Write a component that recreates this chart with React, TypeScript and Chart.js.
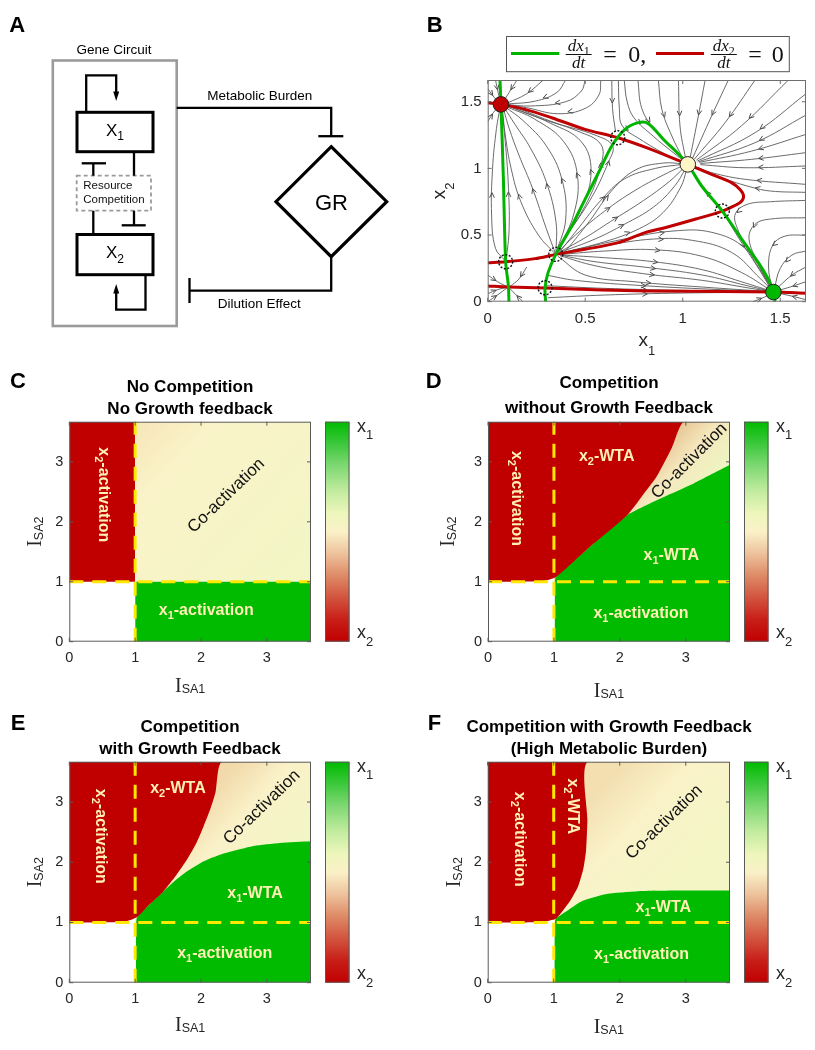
import React, { useEffect, useRef } from 'react';
import { Chart, registerables } from 'chart.js';

Chart.register(...registerables);

const SANS = '"Liberation Sans", Arial, Helvetica, sans-serif';
const SERIF = '"Liberation Serif", "Times New Roman", serif';
Chart.defaults.font.family = SANS;

const RED = '#C00000';
const GREEN = '#00BB00';
const NULL_GREEN = '#00B400';
const YELLOW = '#FFE800';
const LABEL = '#FFF0B4';

// ================= Panel B : phase plane data =================
const phaseTicks = [0, 0.5, 1, 1.5];
const phaseLimX = [0, 1.632];
const phaseLimY = [0, 1.663];

const nullX1Left = [[0.063, 1.663], [0.068, 1.48], [0.08, 0.943], [0.092, 0.3], [0.106, 0.118], [0.109, 0]];
const nullX1Hump = [[0.297, 0], [0.294, 0.105], [0.31, 0.22], [0.349, 0.355], [0.431, 0.568], [0.499, 0.768], [0.568, 0.968], [0.636, 1.168], [0.704, 1.293], [0.773, 1.343], [0.824, 1.335], [0.909, 1.205], [0.97, 1.12], [1.026, 1.03], [1.097, 0.868], [1.203, 0.68], [1.303, 0.468], [1.388, 0.293], [1.439, 0.168], [1.465, 0.0725], [1.473, 0]];
const nullX2Upper = [[0, 1.493], [0.068, 1.48], [0.191, 1.443], [0.328, 1.38], [0.499, 1.293], [0.667, 1.23], [0.824, 1.15], [1.026, 1.03], [1.148, 0.955], [1.25, 0.893], [1.295, 0.84], [1.312, 0.79], [1.295, 0.745], [1.25, 0.71], [1.203, 0.68], [1.063, 0.618], [0.909, 0.555], [0.807, 0.518], [0.67, 0.443], [0.499, 0.393], [0.349, 0.355], [0.243, 0.323], [0.092, 0.3], [0, 0.293]];
const nullX2Lower = [[0, 0.118], [0.106, 0.11], [0.294, 0.102], [0.585, 0.088], [0.82, 0.08], [1.2, 0.076], [1.465, 0.0725], [1.632, 0.064]];

const stablePts = [[0.068, 1.48], [1.026, 1.03], [1.465, 0.0725]];
const unstablePts = [[0.667, 1.23], [1.203, 0.68], [0.349, 0.355], [0.092, 0.3], [0.294, 0.105]];

const streamlines = [
  [[0.04, 1.663], [0.055, 1.56], [0.066, 1.5]],
  [[0.15, 1.663], [0.11, 1.57], [0.08, 1.5]],
  [[0.285, 1.663], [0.2, 1.56], [0.1, 1.49]],
  [[0.4, 1.663], [0.355, 1.57], [0.245, 1.505], [0.1, 1.483]],
  [[0.5, 1.663], [0.48, 1.58], [0.4, 1.5], [0.22, 1.468], [0.09, 1.48]],
  [[0.58, 1.663], [0.57, 1.55], [0.5, 1.45], [0.36, 1.41], [0.2, 1.455], [0.09, 1.478]],
  [[0, 1.6], [0.035, 1.53], [0.064, 1.49]],
  [[0, 1.35], [0.03, 1.42], [0.062, 1.47]],
  [[0.349, 0.355], [0.26, 0.5], [0.17, 0.75], [0.12, 1.0], [0.09, 1.25], [0.075, 1.45]],
  [[0.349, 0.355], [0.3, 0.55], [0.23, 0.85], [0.16, 1.1], [0.11, 1.3], [0.08, 1.45]],
  [[0.35, 0.36], [0.35, 0.6], [0.3, 0.9], [0.22, 1.15], [0.14, 1.33], [0.085, 1.455]],
  [[0.352, 0.37], [0.4, 0.62], [0.38, 0.92], [0.3, 1.17], [0.18, 1.36], [0.09, 1.46]],
  [[0.355, 0.38], [0.44, 0.65], [0.46, 0.95], [0.39, 1.2], [0.24, 1.37], [0.1, 1.46]],
  [[0.357, 0.39], [0.48, 0.7], [0.53, 0.98], [0.48, 1.2], [0.32, 1.34], [0.12, 1.46]],
  [[0.36, 0.4], [0.5, 0.72], [0.58, 1.02], [0.58, 1.18], [0.46, 1.28], [0.26, 1.38], [0.11, 1.465]],
  [[0.36, 0.41], [0.52, 0.75], [0.62, 1.05], [0.64, 1.17], [0.55, 1.25], [0.35, 1.34], [0.13, 1.465]],
  [[0.095, 0.31], [0.11, 0.55], [0.105, 0.9], [0.09, 1.2], [0.073, 1.45]],
  [[0.088, 0.31], [0.04, 0.4], [0.02, 0.65], [0.025, 1.0], [0.045, 1.3], [0.065, 1.465]],
  [[0.636, 1.663], [0.64, 1.45], [0.655, 1.28]],
  [[0.67, 1.663], [0.675, 1.45], [0.69, 1.32], [0.78, 1.22], [0.92, 1.1], [1.01, 1.04]],
  [[0.7, 1.663], [0.715, 1.5], [0.75, 1.38], [0.85, 1.24], [0.95, 1.12], [1.015, 1.045]],
  [[0.77, 1.663], [0.79, 1.45], [0.85, 1.3], [0.94, 1.16], [1.02, 1.045]],
  [[0.875, 1.663], [0.893, 1.443], [0.944, 1.243], [1.003, 1.068]],
  [[0.978, 1.663], [0.986, 1.318], [1.015, 1.07]],
  [[1.115, 1.663], [1.08, 1.393], [1.038, 1.08]],
  [[1.234, 1.663], [1.148, 1.393], [1.05, 1.075]],
  [[1.371, 1.663], [1.217, 1.343], [1.06, 1.07]],
  [[1.542, 1.663], [1.3, 1.318], [1.07, 1.062]],
  [[1.632, 1.56], [1.371, 1.268], [1.075, 1.055]],
  [[1.632, 1.4], [1.371, 1.193], [1.08, 1.05]],
  [[1.632, 1.255], [1.354, 1.13], [1.085, 1.045]],
  [[1.632, 1.118], [1.354, 1.068], [1.09, 1.037]],
  [[1.632, 1.018], [1.32, 1.005], [1.09, 1.028]],
  [[1.632, 0.88], [1.32, 0.918], [1.148, 0.968], [1.08, 1.005]],
  [[1.632, 0.82], [1.45, 0.83], [1.35, 0.86], [1.2, 0.93], [1.07, 1.01]],
  [[1.632, 0.76], [1.45, 0.75], [1.33, 0.73], [1.27, 0.66], [1.28, 0.55], [1.35, 0.35], [1.44, 0.14], [1.462, 0.085]],
  [[1.632, 0.63], [1.45, 0.62], [1.37, 0.58], [1.34, 0.47], [1.39, 0.28], [1.455, 0.09]],
  [[1.632, 0.5], [1.52, 0.49], [1.46, 0.42], [1.44, 0.26], [1.46, 0.09]],
  [[1.632, 0.38], [1.56, 0.35], [1.5, 0.25], [1.47, 0.1]],
  [[1.632, 0.26], [1.56, 0.2], [1.49, 0.11], [1.468, 0.082]],
  [[1.632, 0.15], [1.55, 0.11], [1.48, 0.08]],
  [[1.632, 0.015], [1.55, 0.045], [1.475, 0.068]],
  [[1.36, 0], [1.42, 0.035], [1.458, 0.065]],
  [[1.21, 0.665], [1.29, 0.47], [1.38, 0.27], [1.45, 0.1]],
  [[1.195, 0.695], [1.12, 0.83], [1.04, 1.0]],
  [[0.36, 0.37], [0.45, 0.5], [0.6, 0.68], [0.75, 0.83], [0.9, 0.95], [1.0, 1.02]],
  [[0.365, 0.37], [0.5, 0.48], [0.65, 0.62], [0.8, 0.76], [0.93, 0.9], [1.01, 1.01]],
  [[0.37, 0.37], [0.55, 0.47], [0.7, 0.58], [0.85, 0.71], [0.96, 0.87], [1.015, 1.0]],
  [[0.375, 0.365], [0.6, 0.45], [0.78, 0.55], [0.9, 0.67], [0.99, 0.86], [1.02, 0.99]],
  [[0.37, 0.375], [0.47, 0.56], [0.58, 0.76], [0.7, 0.92], [0.86, 1.0], [1.0, 1.03]],
  [[0.4, 0.38], [0.52, 0.6], [0.64, 0.84], [0.76, 0.99], [0.9, 1.04], [1.0, 1.035]],
  [[0.39, 0.37], [0.7, 0.47], [0.95, 0.53], [1.15, 0.52], [1.32, 0.4], [1.44, 0.15]],
  [[0.38, 0.36], [0.6, 0.42], [0.85, 0.47], [1.05, 0.46], [1.25, 0.37], [1.4, 0.17], [1.458, 0.085]],
  [[0.38, 0.355], [0.6, 0.38], [0.85, 0.39], [1.1, 0.34], [1.3, 0.22], [1.455, 0.082]],
  [[0.38, 0.35], [0.6, 0.33], [0.85, 0.3], [1.1, 0.24], [1.3, 0.15], [1.455, 0.079]],
  [[0.37, 0.35], [0.55, 0.3], [0.8, 0.26], [1.1, 0.2], [1.33, 0.12], [1.455, 0.078]],
  [[0.37, 0.345], [0.55, 0.27], [0.8, 0.21], [1.1, 0.16], [1.35, 0.1], [1.455, 0.076]],
  [[0.36, 0.34], [0.5, 0.2], [0.75, 0.15], [1.1, 0.11], [1.455, 0.075]],
  [[0.3, 0.2], [0.45, 0.16], [0.8, 0.12], [1.2, 0.09], [1.44, 0.077]],
  [[0.3, 0.12], [0.6, 0.1], [1.0, 0.085], [1.44, 0.074]],
  [[0.31, 0.03], [0.6, 0.05], [1.0, 0.065], [1.44, 0.071]],
  [[0, 0], [0.05, 0.05], [0.1, 0.105]],
  [[0, 0.06], [0.05, 0.09], [0.098, 0.108]],
  [[0.18, 0], [0.14, 0.06], [0.112, 0.1]],
  [[0, 0.2], [0.05, 0.15], [0.097, 0.115]],
  [[0.2, 0.26], [0.16, 0.17], [0.115, 0.115]],
];

// ================= Panels C-F : phase-diagram data =================
const isaTicks = [0, 1, 2, 3];
const isaLim = [0, 3.67];
const thresholdV = [[1, 0], [1, 3.67]];
const thresholdH = [[0, 1], [3.67, 1]];
const coactBase = [[1, 1], [3.67, 1]];

const cRed = [[0, 1], [1, 1]];
const cGreen = [[1, 1], [3.67, 1]];

const dRed = [[0, 1], [0.5, 1.0], [0.85, 1.015], [1.03, 1.08], [1.5, 1.54], [2.11, 2.11], [2.33, 2.42], [2.56, 2.76], [2.79, 3.24], [2.97, 3.67], [3.67, 3.67]];
const dGreen = [[1.01, 0], [1.01, 0.6], [1.015, 0.95], [1.03, 1.08], [1.5, 1.54], [2.11, 2.11], [2.56, 2.36], [3.12, 2.64], [3.67, 2.95]];

const eRed = [[0, 1], [0.5, 1.0], [0.85, 1.015], [1.03, 1.09], [1.2, 1.28], [1.43, 1.52], [1.62, 1.78], [1.79, 2.05], [1.93, 2.32], [2.04, 2.6], [2.14, 2.88], [2.22, 3.16], [2.32, 3.67], [3.67, 3.67]];
const eGreen = [[1.01, 0], [1.01, 0.6], [1.015, 0.95], [1.03, 1.09], [1.2, 1.28], [1.4, 1.49], [1.6, 1.69], [1.79, 1.85], [2.05, 2.02], [2.3, 2.13], [2.8, 2.27], [3.2, 2.32], [3.67, 2.35]];

const fRed = [[0, 1], [0.5, 1.0], [0.85, 1.012], [1.03, 1.06], [1.12, 1.17], [1.25, 1.36], [1.37, 1.6], [1.45, 1.9], [1.49, 2.2], [1.51, 2.7], [1.52, 3.67], [3.67, 3.67]];
const fGreen = [[1.01, 0], [1.01, 0.6], [1.015, 0.95], [1.03, 1.06], [1.17, 1.17], [1.42, 1.35], [1.78, 1.47], [2.28, 1.52], [3.0, 1.53], [3.67, 1.53]];

const colorbarStops = [[0, '#C00000'], [0.1, '#C81E18'], [0.2, '#D2543E'], [0.3, '#DE8A66'], [0.4, '#EDC29C'], [0.5, '#FAF1C8'], [0.58, '#EEF6BC'], [0.68, '#C4ECA0'], [0.8, '#7ED872'], [0.9, '#3CC83C'], [1, '#00BB00']];

const X2ACT = [['x'], ['2', true], ['-activation']];
const X1ACT = [['x'], ['1', true], ['-activation']];
const X2WTA = [['x'], ['2', true], ['-WTA']];
const X1WTA = [['x'], ['1', true], ['-WTA']];
const COACT = [['Co-activation']];

const panels = [
  {
    key: 'C', box: { left: 0, top: 340, width: 405, height: 360 }, area: { left: 69.3, top: 81.7, right: 311, bottom: 301.7 },
    letter: [10, 48.3], title: ['No Competition', 'No Growth feedback'], titleX: 190, titleY: [51.7, 74.3],
    red: cRed, green: cGreen, yLabelDx: -28.6, xLabelDy: 50,
    grad: { from: [1, 3.67], to: [3.67, 1], stops: [[0, '#F6E6B8'], [0.25, '#FAF3C9'], [1, '#F2F6C5']] },
    labels: [
      { parts: X2ACT, at: [0.53, 2.45], rot: 90, bold: true },
      { parts: COACT, at: [2.37, 2.45], rot: -44, bold: false },
      { parts: X1ACT, at: [2.08, 0.53], rot: 0, bold: true },
    ],
  },
  {
    key: 'D', box: { left: 405, top: 340, width: 410, height: 360 }, area: { left: 83, top: 81.7, right: 325, bottom: 301.7 },
    letter: [20.7, 48.3], title: ['Competition', 'without Growth Feedback'], titleX: 204, titleY: [48.3, 72.7],
    red: dRed, green: dGreen, yLabelDx: -34.5, xLabelDy: 55,
    grad: { from: [2.5, 3.2], to: [3.2, 2.5], stops: [[0, '#E6C290'], [0.5, '#F5E8BE'], [1, '#EEF4C2']] },
    labels: [
      { parts: X2ACT, at: [0.45, 2.39], rot: 90, bold: true },
      { parts: X2WTA, at: [1.8, 3.1], rot: 0, bold: true },
      { parts: COACT, at: [3.04, 3.03], rot: -45, bold: false },
      { parts: X1WTA, at: [2.78, 1.46], rot: 0, bold: true },
      { parts: X1ACT, at: [2.32, 0.48], rot: 0, bold: true },
    ],
  },
  {
    key: 'E', box: { left: 0, top: 700, width: 405, height: 350 }, area: { left: 69.3, top: 61.7, right: 311, bottom: 282.7 },
    letter: [10.7, 30], title: ['Competition', 'with Growth Feedback'], titleX: 190, titleY: [31.7, 54.3],
    red: eRed, green: eGreen, yLabelDx: -28.6, xLabelDy: 48,
    grad: { from: [1.9, 2.9], to: [2.9, 1.9], stops: [[0, '#F1D9AA'], [0.45, '#FAF1C8'], [1, '#F3F5C6']] },
    labels: [
      { parts: X2ACT, at: [0.49, 2.43], rot: 90, bold: true },
      { parts: X2WTA, at: [1.65, 3.24], rot: 0, bold: true },
      { parts: COACT, at: [2.91, 2.93], rot: -44, bold: false },
      { parts: X1WTA, at: [2.82, 1.49], rot: 0, bold: true },
      { parts: X1ACT, at: [2.36, 0.5], rot: 0, bold: true },
    ],
  },
  {
    key: 'F', box: { left: 405, top: 700, width: 410, height: 350 }, area: { left: 82.7, top: 61.7, right: 325, bottom: 282.7 },
    letter: [22.7, 30], title: ['Competition with Growth Feedback', '(High Metabolic Burden)'], titleX: 204, titleY: [31.7, 54.3],
    red: fRed, green: fGreen, yLabelDx: -28, xLabelDy: 50,
    grad: { from: [1.5, 3.0], to: [2.8, 1.6], stops: [[0, '#F3DFB0'], [0.4, '#FAF2C9'], [1, '#F4F6C6']] },
    labels: [
      { parts: X2ACT, at: [0.49, 2.38], rot: 90, bold: true },
      { parts: X2WTA, at: [1.3, 2.93], rot: 90, bold: true },
      { parts: COACT, at: [2.66, 2.68], rot: -44, bold: false },
      { parts: X1WTA, at: [2.66, 1.26], rot: 0, bold: true },
      { parts: X1ACT, at: [2.33, 0.49], rot: 0, bold: true },
    ],
  },
];

// ================= helpers =================
const toXY = (pts) => pts.map(([x, y]) => ({ x, y }));

function drawRich(ctx, parts, x, y, font, subFont, subDrop, align) {
  ctx.save();
  ctx.textAlign = 'left';
  ctx.textBaseline = 'alphabetic';
  let total = 0;
  const widths = parts.map(([t, s]) => {
    ctx.font = s ? subFont : font;
    const w = ctx.measureText(t).width;
    total += w;
    return w;
  });
  let cx = align === 'left' ? x : align === 'center' ? x - total / 2 : x - total;
  parts.forEach(([t, s], i) => {
    ctx.font = s ? subFont : font;
    ctx.fillText(t, cx, y + (s ? subDrop : 0));
    cx += widths[i];
  });
  ctx.restore();
}

function drawFrame(chart, ticksX, ticksY, color) {
  const { ctx, chartArea: a, scales } = chart;
  ctx.save();
  ctx.strokeStyle = color;
  ctx.lineWidth = 1;
  ctx.strokeRect(a.left + 0.5, a.top + 0.5, a.right - a.left - 1, a.bottom - a.top - 1);
  ctx.beginPath();
  ticksX.forEach((v) => {
    const x = scales.x.getPixelForValue(v);
    ctx.moveTo(x, a.bottom); ctx.lineTo(x, a.bottom - 4);
    ctx.moveTo(x, a.top); ctx.lineTo(x, a.top + 4);
  });
  ticksY.forEach((v) => {
    const y = scales.y.getPixelForValue(v);
    ctx.moveTo(a.left, y); ctx.lineTo(a.left + 4, y);
    ctx.moveTo(a.right, y); ctx.lineTo(a.right - 4, y);
  });
  ctx.stroke();
  ctx.restore();
}

function axisOpts(lim, ticks, size, pad, fit) {
  return {
    type: 'linear',
    min: lim[0],
    max: lim[1],
    afterBuildTicks: (ax) => { ax.ticks = ticks.map((v) => ({ value: v })); },
    afterFit: fit,
    grid: { display: false, drawTicks: false },
    border: { display: false },
    ticks: { padding: pad, color: '#262626', font: { size, family: SANS }, autoSkip: false, maxRotation: 0, callback: (v) => String(v) },
  };
}

function poly(ctx, pts) {
  ctx.beginPath();
  ctx.moveTo(pts[0][0], pts[0][1]);
  for (let i = 1; i < pts.length; i++) ctx.lineTo(pts[i][0], pts[i][1]);
  ctx.stroke();
}

function tri(ctx, tip, base, half) {
  ctx.beginPath();
  ctx.moveTo(tip[0], tip[1]);
  ctx.lineTo(tip[0] - half, base);
  ctx.lineTo(tip[0] + half, base);
  ctx.closePath();
  ctx.fill();
}

// ================= Panel A (schematic) =================
function makePanelA(canvas) {
  return new Chart(canvas, {
    type: 'scatter',
    data: { datasets: [] },
    options: {
      responsive: false, animation: false, events: [],
      plugins: { legend: { display: false }, tooltip: { enabled: false } },
      scales: { x: { display: false }, y: { display: false } },
    },
    plugins: [{
      id: 'schematic',
      afterDraw(chart) {
        const ctx = chart.ctx;
        ctx.save();
        ctx.fillStyle = '#000';
        ctx.textBaseline = 'alphabetic';
        ctx.font = `bold 22px ${SANS}`;
        ctx.textAlign = 'left';
        ctx.fillText('A', 9.3, 32.3);
        ctx.font = `13.5px ${SANS}`;
        ctx.textAlign = 'center';
        ctx.fillText('Gene Circuit', 114, 54);
        ctx.fillText('Metabolic Burden', 259.7, 100);
        ctx.fillText('Dilution Effect', 259.2, 308);
        ctx.strokeStyle = '#9b9b9b';
        ctx.lineWidth = 2.6;
        ctx.strokeRect(52.8, 60.5, 123.9, 265.5);
        ctx.lineWidth = 1.8;
        ctx.setLineDash([4, 3]);
        ctx.strokeRect(76.7, 175.7, 74.3, 35);
        ctx.setLineDash([]);
        ctx.fillStyle = '#111';
        ctx.font = `11.5px ${SANS}`;
        ctx.textAlign = 'left';
        ctx.fillText('Resource', 83.3, 189.3);
        ctx.fillText('Competition', 83.3, 203);
        ctx.strokeStyle = '#000';
        ctx.lineWidth = 3;
        ctx.strokeRect(77, 112.3, 76, 39.4);
        ctx.strokeRect(77, 234.5, 76, 40.2);
        ctx.fillStyle = '#000';
        drawRich(ctx, [['X'], ['1', true]], 115, 136, `17px ${SANS}`, `12px ${SANS}`, 4, 'center');
        drawRich(ctx, [['X'], ['2', true]], 115, 258.3, `17px ${SANS}`, `12px ${SANS}`, 5, 'center');
        ctx.lineWidth = 2.3;
        poly(ctx, [[86.2, 112.3], [86.2, 75.3], [116.2, 75.3], [116.2, 93]]);
        tri(ctx, [116.2, 101], 91.5, 3);
        poly(ctx, [[145.5, 274.7], [145.5, 309.7], [116.2, 309.7], [116.2, 292]]);
        tri(ctx, [116.2, 284], 293.5, 3);
        poly(ctx, [[134, 151.7], [134, 175.7]]);
        poly(ctx, [[93.3, 163.3], [93.3, 175.7]]);
        poly(ctx, [[81.7, 163.3], [106, 163.3]]);
        poly(ctx, [[93.3, 210.7], [93.3, 234.5]]);
        poly(ctx, [[134, 210.7], [134, 225.3]]);
        poly(ctx, [[121.7, 225.3], [145.7, 225.3]]);
        poly(ctx, [[176.7, 107.8], [331.2, 107.8], [331.2, 136.2]]);
        poly(ctx, [[318.3, 136.2], [343.3, 136.2]]);
        poly(ctx, [[331.2, 256.7], [331.2, 290.7], [189.5, 290.7]]);
        poly(ctx, [[189.5, 278], [189.5, 303]]);
        ctx.lineWidth = 3.2;
        ctx.lineJoin = 'miter';
        ctx.beginPath();
        ctx.moveTo(331.2, 146.7); ctx.lineTo(386.7, 201.7); ctx.lineTo(331.2, 256.7); ctx.lineTo(276, 201.7);
        ctx.closePath();
        ctx.stroke();
        ctx.font = `22px ${SANS}`;
        ctx.textAlign = 'center';
        ctx.fillText('GR', 331.5, 209.5);
        ctx.restore();
      },
    }],
  });
}

// ================= Panel B (phase plane) =================
function makePanelB(canvas) {
  const H = canvas.height;
  const datasets = [
    { label: 'stable', data: toXY(stablePts), showLine: false, pointRadius: 7.8, pointBackgroundColor: [RED, '#FFF6C6', '#00B800'], pointBorderColor: '#222', pointBorderWidth: 1, order: 0, clip: false },
    { label: 'unstable', data: toXY(unstablePts), showLine: false, pointRadius: 0, order: 0 },
    { label: 'null', data: toXY(nullX1Left), borderColor: NULL_GREEN, borderWidth: 3, pointRadius: 0, tension: 0.3, order: 1 },
    { label: 'null', data: toXY(nullX1Hump), borderColor: NULL_GREEN, borderWidth: 3, pointRadius: 0, tension: 0.3, order: 1 },
    { label: 'null', data: toXY(nullX2Upper), borderColor: RED, borderWidth: 3, pointRadius: 0, tension: 0.3, order: 1 },
    { label: 'null', data: toXY(nullX2Lower), borderColor: RED, borderWidth: 3, pointRadius: 0, tension: 0.3, order: 1 },
    ...streamlines.map((s) => ({ label: 'stream', data: toXY(s), borderColor: '#5a5a5a', borderWidth: 0.9, pointRadius: 0, tension: 0.4, order: 2 })),
  ];
  return new Chart(canvas, {
    type: 'line',
    data: { datasets },
    options: {
      responsive: false, maintainAspectRatio: false, animation: false, events: [],
      layout: { padding: { left: 0, top: 80, right: 9, bottom: 0 }, autoPadding: false },
      plugins: { legend: { display: false }, tooltip: { enabled: false } },
      scales: {
        x: axisOpts(phaseLimX, phaseTicks, 15, 8, (s) => { s.height = H - 301.7; }),
        y: axisOpts(phaseLimY, phaseTicks, 15, 6, (s) => { s.width = 87.7; }),
      },
    },
    plugins: [{
      id: 'phaseDecor',
      afterDatasetDraw(chart, args) {
        const ds = chart.data.datasets[args.index];
        if (ds.label !== 'stream') return;
        const pts = args.meta.data;
        if (pts.length < 2) return;
        let total = 0;
        const seg = [];
        for (let i = 1; i < pts.length; i++) {
          const l = Math.hypot(pts[i].x - pts[i - 1].x, pts[i].y - pts[i - 1].y);
          seg.push(l); total += l;
        }
        let target = total * 0.45;
        let i = 0;
        while (i < seg.length - 1 && target > seg[i]) { target -= seg[i]; i++; }
        const p0 = pts[i], p1 = pts[i + 1];
        const t = seg[i] ? target / seg[i] : 0;
        const px = p0.x + (p1.x - p0.x) * t, py = p0.y + (p1.y - p0.y) * t;
        const ang = Math.atan2(p1.y - p0.y, p1.x - p0.x);
        const ctx = chart.ctx;
        ctx.save();
        ctx.strokeStyle = '#4a4a4a';
        ctx.lineWidth = 1;
        ctx.beginPath();
        ctx.moveTo(px - 5.5 * Math.cos(ang - 0.45), py - 5.5 * Math.sin(ang - 0.45));
        ctx.lineTo(px, py);
        ctx.lineTo(px - 5.5 * Math.cos(ang + 0.45), py - 5.5 * Math.sin(ang + 0.45));
        ctx.stroke();
        ctx.restore();
      },
      afterDatasetsDraw(chart) {
        const ctx = chart.ctx;
        const idx = chart.data.datasets.findIndex((d) => d.label === 'unstable');
        const meta = chart.getDatasetMeta(idx);
        ctx.save();
        ctx.strokeStyle = '#111';
        ctx.lineWidth = 1.4;
        ctx.setLineDash([2, 1.6]);
        meta.data.forEach((el) => {
          ctx.beginPath();
          ctx.arc(el.x, el.y, 7, 0, Math.PI * 2);
          ctx.stroke();
        });
        ctx.restore();
      },
      afterDraw(chart) {
        const ctx = chart.ctx;
        drawFrame(chart, phaseTicks, phaseTicks, '#6e6e6e');
        ctx.save();
        ctx.fillStyle = '#000';
        ctx.font = `bold 22px ${SANS}`;
        ctx.textAlign = 'left';
        ctx.textBaseline = 'alphabetic';
        ctx.fillText('B', 26.7, 32.3);
        ctx.fillStyle = '#262626';
        const a = chart.chartArea;
        drawRich(ctx, [['x'], ['1', true]], (a.left + a.right) / 2, 346, `19px ${SANS}`, `13px ${SANS}`, 8.5, 'center');
        ctx.save();
        ctx.translate(45, (a.top + a.bottom) / 2);
        ctx.rotate(-Math.PI / 2);
        drawRich(ctx, [['x'], ['2', true]], 0, 0, `19px ${SANS}`, `13px ${SANS}`, 8.5, 'center');
        ctx.restore();
        // legend
        ctx.fillStyle = '#fff';
        ctx.fillRect(106, 36, 283.3, 35.7);
        ctx.strokeStyle = '#555';
        ctx.lineWidth = 1;
        ctx.strokeRect(106.5, 36.5, 282.8, 35.2);
        ctx.lineWidth = 3;
        ctx.strokeStyle = NULL_GREEN;
        poly(ctx, [[111, 53.5], [159.3, 53.5]]);
        ctx.strokeStyle = RED;
        poly(ctx, [[256, 53.5], [304, 53.5]]);
        ctx.fillStyle = '#111';
        const frac = (cx, sub) => {
          drawRich(ctx, [['dx'], [sub, true]], cx, 51, `italic 17px ${SERIF}`, `12px ${SERIF}`, 3.5, 'center');
          ctx.strokeStyle = '#111';
          ctx.lineWidth = 1;
          poly(ctx, [[cx - 13, 54.5], [cx + 13, 54.5]]);
          drawRich(ctx, [['dt']], cx, 67.5, `italic 17px ${SERIF}`, `12px ${SERIF}`, 0, 'center');
        };
        frac(178.7, '1');
        frac(323.8, '2');
        ctx.font = `24px ${SERIF}`;
        ctx.textAlign = 'center';
        ctx.fillText('=', 210, 62);
        ctx.fillText('=', 355, 62);
        ctx.textAlign = 'left';
        ctx.fillText('0,', 228.3, 62);
        ctx.fillText('0', 371.7, 62);
        ctx.restore();
      },
    }],
  });
}

// ================= Panels C-F (phase diagrams) =================
function makeHeat(canvas, P) {
  const W = P.box.width, H = P.box.height, A = P.area;
  const creamFill = (c) => {
    const ch = c.chart;
    const xs = ch.scales && ch.scales.x, ys = ch.scales && ch.scales.y;
    if (!ch.chartArea || !xs || !ys) return '#FAF2C8';
    const g = ch.ctx.createLinearGradient(
      xs.getPixelForValue(P.grad.from[0]), ys.getPixelForValue(P.grad.from[1]),
      xs.getPixelForValue(P.grad.to[0]), ys.getPixelForValue(P.grad.to[1]));
    P.grad.stops.forEach(([o, col]) => g.addColorStop(o, col));
    return g;
  };
  const region = (pts, fill, color, order) => ({ data: toXY(pts), fill, backgroundColor: color, borderWidth: 0, borderColor: 'rgba(0,0,0,0)', pointRadius: 0, tension: 0.2, order });
  const dash = (pts) => ({ data: toXY(pts), fill: false, borderColor: YELLOW, borderWidth: 3, borderDash: [14, 9], pointRadius: 0, tension: 0, order: 0 });
  return new Chart(canvas, {
    type: 'line',
    data: {
      datasets: [
        dash(thresholdH),
        dash(thresholdV),
        region(P.red, 'end', RED, 2),
        region(P.green, 'start', GREEN, 3),
        region(coactBase, 'end', creamFill, 4),
      ],
    },
    options: {
      responsive: false, maintainAspectRatio: false, animation: false, events: [],
      layout: { padding: { left: 0, top: A.top, right: W - A.right, bottom: 0 }, autoPadding: false },
      plugins: { legend: { display: false }, tooltip: { enabled: false } },
      scales: {
        x: axisOpts(isaLim, isaTicks, 14.5, 8, (s) => { s.height = H - A.bottom; }),
        y: axisOpts(isaLim, isaTicks, 14.5, 6, (s) => { s.width = A.left; }),
      },
    },
    plugins: [{
      id: 'heatDecor',
      afterDatasetsDraw(chart) {
        const ctx = chart.ctx;
        const xs = chart.scales.x, ys = chart.scales.y;
        P.labels.forEach((l) => {
          ctx.save();
          ctx.translate(xs.getPixelForValue(l.at[0]), ys.getPixelForValue(l.at[1]));
          ctx.rotate((l.rot * Math.PI) / 180);
          ctx.fillStyle = l.bold ? LABEL : '#111';
          if (l.bold) drawRich(ctx, l.parts, 0, 5.5, `bold 16px ${SANS}`, `bold 11px ${SANS}`, 4, 'center');
          else drawRich(ctx, l.parts, 0, 6, `17px ${SANS}`, `12px ${SANS}`, 4, 'center');
          ctx.restore();
        });
      },
      afterDraw(chart) {
        const ctx = chart.ctx;
        const a = chart.chartArea;
        drawFrame(chart, isaTicks, isaTicks, '#5a5a5a');
        ctx.save();
        const cbx = a.right + 14, cbw = 24.5;
        const g = ctx.createLinearGradient(0, a.bottom, 0, a.top);
        colorbarStops.forEach(([o, c]) => g.addColorStop(o, c));
        ctx.fillStyle = g;
        ctx.fillRect(cbx, a.top, cbw, a.bottom - a.top);
        ctx.strokeStyle = '#5a5a5a';
        ctx.lineWidth = 1;
        ctx.strokeRect(cbx + 0.5, a.top + 0.5, cbw - 1, a.bottom - a.top - 1);
        ctx.fillStyle = '#262626';
        drawRich(ctx, [['x'], ['1', true]], cbx + cbw + 7.5, a.top + 10, `18px ${SANS}`, `13px ${SANS}`, 7.5, 'left');
        drawRich(ctx, [['x'], ['2', true]], cbx + cbw + 7.5, a.bottom - 3.4, `18px ${SANS}`, `13px ${SANS}`, 8, 'left');
        ctx.fillStyle = '#000';
        ctx.textBaseline = 'alphabetic';
        ctx.font = `bold 22px ${SANS}`;
        ctx.textAlign = 'left';
        ctx.fillText(P.key, P.letter[0], P.letter[1]);
        ctx.font = `bold 17px ${SANS}`;
        ctx.textAlign = 'center';
        ctx.fillText(P.title[0], P.titleX, P.titleY[0]);
        ctx.fillText(P.title[1], P.titleX, P.titleY[1]);
        ctx.fillStyle = '#262626';
        drawRich(ctx, [['I'], ['SA1', true]], (a.left + a.right) / 2, a.bottom + P.xLabelDy, `20px ${SERIF}`, `12.5px ${SANS}`, 1, 'center');
        ctx.translate(a.left + P.yLabelDx, (a.top + a.bottom) / 2);
        ctx.rotate(-Math.PI / 2);
        drawRich(ctx, [['I'], ['SA2', true]], 0, 0, `20px ${SERIF}`, `12.5px ${SANS}`, 2, 'center');
        ctx.restore();
      },
    }],
  });
}

export default function App() {
  const refA = useRef(null);
  const refB = useRef(null);
  const refs = [useRef(null), useRef(null), useRef(null), useRef(null)];

  useEffect(() => {
    const charts = [makePanelA(refA.current), makePanelB(refB.current)];
    panels.forEach((p, i) => charts.push(makeHeat(refs[i].current, p)));
    return () => charts.forEach((c) => c.destroy());
  }, []);

  return (
    <div style={{ position: 'absolute', left: 0, top: 0, width: 815, height: 1050, background: '#fff', overflow: 'hidden' }}>
      <canvas ref={refA} width={400} height={340} style={{ position: 'absolute', left: 0, top: 0 }} />
      <canvas ref={refB} width={415} height={362} style={{ position: 'absolute', left: 400, top: 0 }} />
      {panels.map((p, i) => (
        <canvas key={p.key} ref={refs[i]} width={p.box.width} height={p.box.height}
          style={{ position: 'absolute', left: p.box.left, top: p.box.top }} />
      ))}
    </div>
  );
}
